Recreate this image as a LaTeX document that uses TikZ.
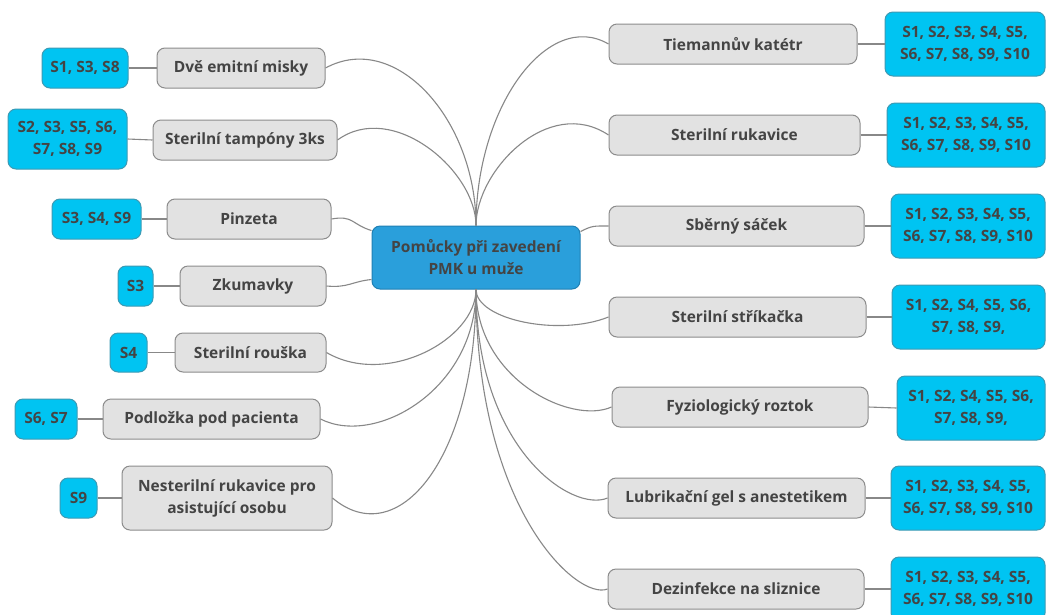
\documentclass[tikz,border=0pt]{standalone}
\usepackage{fontspec}
\setmainfont{Open Sans}
\begin{document}
\definecolor{txt}{HTML}{444444}
\definecolor{grayfill}{HTML}{E2E2E2}
\definecolor{grayline}{HTML}{8C8C8C}
\definecolor{leaffill}{HTML}{00C4F2}
\definecolor{leafline}{HTML}{3C9AB4}
\definecolor{rootfill}{HTML}{2A9FDB}
\definecolor{rootline}{HTML}{2080B4}
\definecolor{wire}{HTML}{888888}
\begin{tikzpicture}[x=1pt,y=-1pt,
  every node/.style={font=\bfseries\fontsize{15.5}{22}\selectfont, text=txt, align=center, inner sep=0pt},
  item/.style={draw=grayline, fill=grayfill, line width=1pt, rounded corners=8pt, minimum height=40pt},
  leaf/.style={draw=leafline, fill=leaffill, line width=1pt, rounded corners=8pt, minimum height=40pt},
  root/.style={draw=rootline, fill=rootfill, line width=1pt, rounded corners=8pt, minimum width=208pt, minimum height=63pt},
  wirestyle/.style={draw=wire, line width=1.1pt},
  ]
\useasboundingbox (0,0) rectangle (1046,614);
\fill[white] (0,0) rectangle (1046,614);

% central topic
\node[root] (c) at (476,257.5) {Pomůcky při zavedení\\PMK u muže};

% left branch items
\node[item, minimum width=168pt] (g1) at (241,68) {Dvě emitní misky};
\node[item, minimum width=184pt] (g2) at (245,140) {Sterilní tampóny 3ks};
\node[item, minimum width=164pt] (g3) at (249,219) {Pinzeta};
\node[item, minimum width=146pt] (g4) at (253,286) {Zkumavky};
\node[item, minimum width=151pt, minimum height=39pt] (g5) at (250.5,352.5) {Sterilní rouška};
\node[item, minimum width=217pt] (g6) at (211.5,419) {Podložka pod pacienta};
\node[item, minimum width=210pt, minimum height=64pt] (g7) at (227,498) {Nesterilní rukavice pro\\asistující osobu};

% left leaves
\node[leaf, minimum width=86pt] (b1) at (85,68) {S1, S3, S8};
\node[leaf, minimum width=119pt, minimum height=60pt] (b2) at (67.5,139) {S2, S3, S5, S6,\\S7, S8, S9};
\node[leaf, minimum width=89pt] (b3) at (96.5,219) {S3, S4, S9};
\node[leaf, minimum width=35pt] (b4) at (135.5,286) {S3};
\node[leaf, minimum width=37pt, minimum height=39pt] (b5) at (128.5,352.5) {S4};
\node[leaf, minimum width=62pt] (b6) at (46,419) {S6, S7};
\node[leaf, minimum width=37pt] (b7) at (78.5,498) {S9};

% right branch items
\node[item, minimum width=248pt] (r1) at (733,44) {Tiemannův katétr};
\node[item, minimum width=251pt] (r2) at (734.5,135) {Sterilní rukavice};
\node[item, minimum width=255pt] (r3) at (736.5,226) {Sběrný sáček};
\node[item, minimum width=257pt] (r4) at (737.5,317) {Sterilní stříkačka};
\node[item, minimum width=256pt] (r5) at (740,407) {Fyziologický roztok};
\node[item, minimum width=257pt] (r6) at (736.5,498) {Lubrikační gel s anestetikem};
\node[item, minimum width=256pt] (r7) at (736,589) {Dezinfekce na sliznice};

% right leaves
\node[leaf, minimum width=160pt, minimum height=64pt] (q1) at (965,44) {S1, S2, S3, S4, S5,\\S6, S7, S8, S9, S10};
\node[leaf, minimum width=158pt, minimum height=64pt] (q2) at (966,135) {S1, S2, S3, S4, S5,\\S6, S7, S8, S9, S10};
\node[leaf, minimum width=154pt, minimum height=64pt] (q3) at (968,226) {S1, S2, S3, S4, S5,\\S6, S7, S8, S9, S10};
\node[leaf, minimum width=153pt, minimum height=64pt] (q4) at (968.5,317) {S1, S2, S4, S5, S6,\\S7, S8, S9,};
\node[leaf, minimum width=148pt, minimum height=64pt] (q5) at (971,408) {S1, S2, S4, S5, S6,\\S7, S8, S9,};
\node[leaf, minimum width=154pt, minimum height=64pt] (q6) at (968,498) {S1, S2, S3, S4, S5,\\S6, S7, S8, S9, S10};
\node[leaf, minimum width=154pt, minimum height=64pt] (q7) at (968,589) {S1, S2, S3, S4, S5,\\S6, S7, S8, S9, S10};

% leaf links
\foreach \a/\b in {b1/g1,b2/g2,b3/g3,b4/g4,b5/g5,b6/g6,b7/g7}
  \draw[wirestyle] (\a.east) -- (\b.west);
\foreach \a/\b in {r1/q1,r2/q2,r3/q3,r4/q4,r5/q5,r6/q6,r7/q7}
  \draw[wirestyle] (\a.east) -- (\b.west);

% branches to the central topic (y grows downwards)
\draw[wirestyle] (g1.east) .. controls +(70,-38) and +(0,-106) .. (c.north);
\draw[wirestyle] (g2.east) .. controls +(55,-40) and +(0,-55) .. (c.north);
\draw[wirestyle] (g3.east) .. controls +(22,-4) and +(-20,-6) .. ([yshift=27pt]c.west);
\draw[wirestyle] (g4.east) .. controls +(22,2) and +(-20,2) .. ([yshift=-22pt]c.west);
\draw[wirestyle] (g5.east) .. controls +(60,35) and +(0,50) .. (c.south);
\draw[wirestyle] (g6.east) .. controls +(55,28) and +(0,100) .. (c.south);
\draw[wirestyle] (g7.east) .. controls +(65,55) and +(0,170) .. (c.south);
\draw[wirestyle] (r1.west) .. controls +(-60,-35) and +(0,-120) .. (c.north);
\draw[wirestyle] (r2.west) .. controls +(-60,-40) and +(0,-55) .. (c.north);
\draw[wirestyle] (r3.west) .. controls +(-15,0) and +(12,-6) .. ([yshift=26pt]c.east);
\draw[wirestyle] (r4.west) .. controls +(-50,20) and +(0,30) .. (c.south);
\draw[wirestyle] (r5.west) .. controls +(-40,18) and +(0,90) .. (c.south);
\draw[wirestyle] (r6.west) .. controls +(-35,15) and +(0,160) .. (c.south);
\draw[wirestyle] (r7.west) .. controls +(-30,12) and +(0,220) .. (c.south);
\end{tikzpicture}
\end{document}
